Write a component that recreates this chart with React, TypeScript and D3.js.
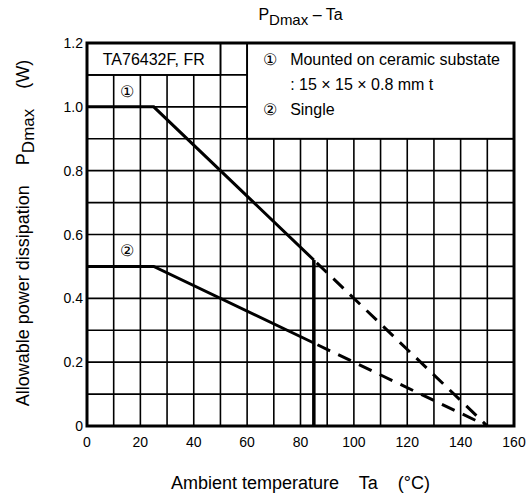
import React from 'react';
import * as d3 from 'd3';

// derating curves (Ta in °C, PDmax in W)
const curve1Solid: [number, number][] = [[0, 1.0], [25, 1.0], [85, 0.52]];
const curve1Dash: [number, number][] = [[85, 0.52], [150, 0]];
const curve2Solid: [number, number][] = [[0, 0.5], [25, 0.5], [85, 0.26]];
const curve2Dash: [number, number][] = [[85, 0.26], [150, 0]];
const limitLine: [number, number][] = [[85, 0], [85, 0.52]];

const xTicks = [0, 20, 40, 60, 80, 100, 120, 140, 160];
const yTicks = [0, 0.2, 0.4, 0.6, 0.8, 1.0, 1.2];
const xGrid = d3.range(10, 160, 10);
const yGrid = d3.range(1, 12).map(d => d / 10);

const legendLines = ['Mounted on ceramic substate', ': 15 × 15 × 0.8 mm t', 'Single'];

export default function App() {
  const W = 528, H = 497;
  const m = { left: 87, top: 43, right: 14, bottom: 71 };
  const x = d3.scaleLinear().domain([0, 160]).range([m.left, W - m.right]);
  const y = d3.scaleLinear().domain([0, 1.2]).range([H - m.bottom, m.top]);
  const line = d3.line<[number, number]>().x(d => x(d[0])).y(d => y(d[1]));
  const font = '"Liberation Sans", Arial, sans-serif';
  const lx = x(60);

  return (
    <svg width={W} height={H} style={{ position: 'absolute', left: 0, top: 0, fontFamily: font }}>
      <rect width={W} height={H} fill="#fff" />
      {/* grid */}
      {xGrid.map(v => (
        <line key={'gx' + v} x1={x(v)} x2={x(v)} y1={y(0)} y2={y(1.2)} stroke="#000" strokeWidth={1.6} />
      ))}
      {yGrid.map(v => (
        <line key={'gy' + v} x1={x(0)} x2={x(160)} y1={y(v)} y2={y(v)} stroke="#000" strokeWidth={1.6} />
      ))}
      {/* part number box */}
      <rect x={x(0)} y={y(1.2)} width={x(50) - x(0)} height={y(1.1) - y(1.2)} fill="#fff" stroke="#000" strokeWidth={1.8} />
      <text x={(x(0) + x(50)) / 2} y={(y(1.1) + y(1.2)) / 2 + 6} textAnchor="middle" fontSize={16}>TA76432F, FR</text>
      {/* legend box */}
      <rect x={lx} y={y(1.2)} width={x(160) - lx} height={y(0.9) - y(1.2)} fill="#fff" stroke="#000" strokeWidth={1.8} />
      <text x={lx + 16} y={y(1.2) + 22} fontSize={16}>①</text>
      <text x={lx + 43} y={y(1.2) + 22} fontSize={16}>{legendLines[0]}</text>
      <text x={lx + 43} y={y(1.2) + 47} fontSize={16}>{legendLines[1]}</text>
      <text x={lx + 16} y={y(1.2) + 72} fontSize={16}>②</text>
      <text x={lx + 43} y={y(1.2) + 72} fontSize={16}>{legendLines[2]}</text>
      {/* frame */}
      <rect x={x(0)} y={y(1.2)} width={x(160) - x(0)} height={y(0) - y(1.2)} fill="none" stroke="#000" strokeWidth={3} />
      {/* curves */}
      <path d={line(curve1Solid) ?? ''} fill="none" stroke="#000" strokeWidth={3} />
      <path d={line(curve2Solid) ?? ''} fill="none" stroke="#000" strokeWidth={3} />
      <path d={line(curve1Dash) ?? ''} fill="none" stroke="#000" strokeWidth={3} strokeDasharray="14 9" strokeDashoffset={-4} />
      <path d={line(curve2Dash) ?? ''} fill="none" stroke="#000" strokeWidth={3} strokeDasharray="14 9" strokeDashoffset={-4} />
      <path d={line(limitLine) ?? ''} fill="none" stroke="#000" strokeWidth={3.5} />
      <text x={x(15)} y={y(1.05) + 6} textAnchor="middle" fontSize={16}>①</text>
      <text x={x(15)} y={y(0.55) + 6} textAnchor="middle" fontSize={16}>②</text>
      {/* ticks */}
      {yTicks.map(v => (
        <text key={'yt' + v} x={x(0) - 4} y={y(v) + 5} textAnchor="end" fontSize={14}>
          {v === 0 ? '0' : v.toFixed(1)}
        </text>
      ))}
      {xTicks.map(v => (
        <text key={'xt' + v} x={x(v)} y={y(0) + 21} textAnchor="middle" fontSize={14}>{v}</text>
      ))}
      {/* titles */}
      <text x={(x(0) + x(160)) / 2} y={20} textAnchor="middle" fontSize={16}>
        P<tspan fontSize={15} dy={5}>Dmax</tspan><tspan dy={-5}> – Ta</tspan>
      </text>
      <text x={(x(0) + x(160)) / 2} y={489} textAnchor="middle" fontSize={18} style={{ whiteSpace: 'pre' }}>
        {'Ambient temperature    Ta    (°C)'}
      </text>
      <text transform={`translate(29,233) rotate(-90)`} textAnchor="middle" fontSize={18} style={{ whiteSpace: 'pre' }}>
        {'Allowable power dissipation    P'}<tspan fontSize={17} dy={5}>Dmax</tspan><tspan dy={-5}>{'    (W)'}</tspan>
      </text>
    </svg>
  );
}
